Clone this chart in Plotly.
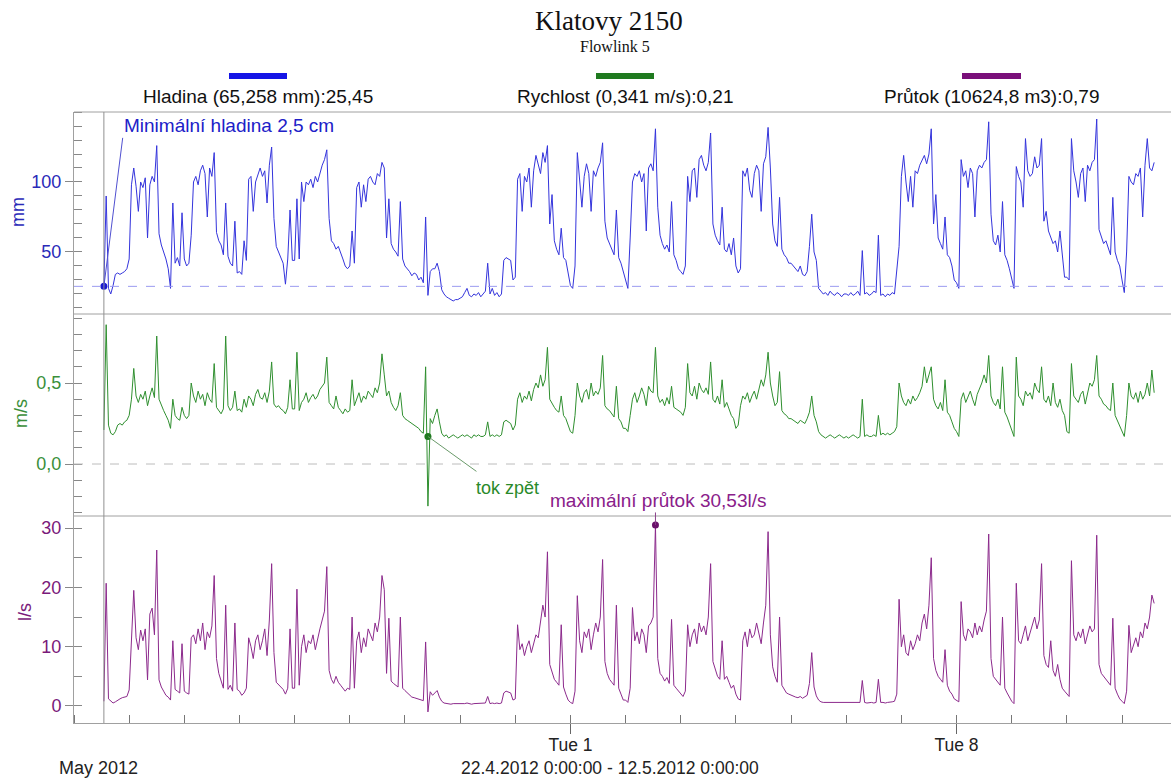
import pandas as pd
import plotly.graph_objects as go

# ---------------- data (hourly readings from 22.4.2012 13:00) ----------------
START = "2012-04-22 13:00"

level_mm = [
    25.45, 90, 24, 20, 26, 34, 35, 34, 35, 36, 38,
    45, 98, 110, 97, 79, 100, 96, 103, 60, 98, 104, 100, 126, 63, 55, 50, 45, 38, 24, 85, 42, 46, 40, 78,
    45, 40, 42, 62, 100, 104, 98, 108, 112, 106, 75, 110, 104, 121, 64, 58, 55, 48, 85, 47, 42, 40, 72, 35,
    36, 34, 58, 44, 102, 104, 79, 100, 106, 110, 104, 108, 85, 112, 125, 74, 54, 50, 46, 42, 27, 45, 80, 44,
    44, 88, 45, 100, 86, 100, 98, 102, 96, 104, 100, 106, 112, 116, 123, 74, 58, 56, 52, 54, 50, 45, 40, 38,
    40, 65, 42, 96, 100, 82, 98, 86, 102, 104, 100, 98, 106, 104, 114, 110, 60, 88, 56, 52, 50, 47, 86, 45,
    40, 38, 36, 33, 35, 34, 30, 32, 28, 75, 19, 36, 38, 38, 42, 36, 23, 20, 18, 17, 16, 15, 16, 16,
    17, 18, 21, 24, 19, 18, 20, 19, 21, 18, 20, 22, 42, 20, 24, 19, 21, 18, 20, 44, 46, 45, 44, 30,
    32, 102, 106, 79, 104, 100, 110, 82, 108, 119, 112, 106, 121, 114, 126, 70, 91, 58, 52, 48, 67, 46, 44, 34,
    26, 24, 40, 121, 100, 82, 104, 113, 106, 79, 108, 104, 110, 114, 128, 72, 60, 56, 52, 48, 80, 46, 42, 36,
    30, 24, 60, 100, 106, 104, 108, 100, 106, 65, 110, 113, 108, 138, 82, 62, 56, 52, 55, 50, 86, 48, 44, 38,
    36, 34, 40, 104, 86, 108, 110, 89, 116, 119, 112, 108, 114, 135, 70, 62, 58, 55, 82, 52, 50, 56, 48, 60,
    40, 35, 38, 108, 104, 110, 94, 89, 106, 112, 108, 79, 113, 118, 139, 110, 70, 58, 54, 89, 52, 48, 46, 42,
    42, 40, 38, 36, 40, 34, 33, 36, 54, 77, 50, 44, 24, 22, 20, 21, 19, 22, 20, 19, 21, 20, 18, 20,
    20, 19, 21, 19, 20, 22, 19, 51, 20, 21, 19, 20, 22, 21, 62, 19, 20, 18, 20, 19, 21, 20, 35, 54,
    104, 119, 100, 86, 104, 82, 108, 106, 112, 116, 119, 113, 120, 138, 70, 91, 60, 56, 52, 75, 48, 46, 40, 30,
    28, 24, 116, 104, 108, 96, 110, 106, 75, 108, 112, 110, 114, 116, 143, 77, 58, 55, 62, 50, 86, 48, 44, 38,
    30, 24, 111, 104, 100, 82, 131, 108, 104, 106, 118, 110, 112, 131, 72, 79, 65, 60, 56, 58, 50, 65, 48, 32,
    32, 30, 131, 108, 100, 89, 106, 110, 86, 112, 108, 114, 116, 145, 66, 60, 56, 58, 52, 48, 89, 50, 44, 40,
    30, 21, 50, 104, 100, 98, 106, 104, 110, 75, 112, 131, 110, 108, 114,
]

velocity_ms = [
    0.21, 0.86, 0.24, 0.19, 0.18, 0.2, 0.24, 0.25, 0.24, 0.26, 0.27,
    0.3, 0.4, 0.59, 0.42, 0.38, 0.43, 0.4, 0.45, 0.36, 0.42, 0.47, 0.41, 0.79, 0.4, 0.36, 0.33, 0.3, 0.27, 0.22, 0.4, 0.3, 0.28, 0.27, 0.35,
    0.3, 0.28, 0.3, 0.5, 0.42, 0.38, 0.45, 0.4, 0.43, 0.36, 0.44, 0.4, 0.38, 0.62, 0.35, 0.33, 0.31, 0.34, 0.79, 0.36, 0.33, 0.35, 0.45, 0.33,
    0.34, 0.32, 0.4, 0.35, 0.42, 0.4, 0.36, 0.43, 0.46, 0.41, 0.4, 0.44, 0.38, 0.45, 0.63, 0.37, 0.35, 0.36, 0.34, 0.33, 0.31, 0.35, 0.52, 0.34,
    0.34, 0.69, 0.33, 0.38, 0.4, 0.44, 0.38, 0.41, 0.43, 0.4, 0.42, 0.46, 0.48, 0.5, 0.66, 0.38, 0.36, 0.34, 0.42, 0.35, 0.33, 0.31, 0.34, 0.32,
    0.33, 0.52, 0.36, 0.4, 0.44, 0.38, 0.42, 0.4, 0.45, 0.43, 0.41, 0.47, 0.44, 0.5, 0.68, 0.55, 0.42, 0.45, 0.38, 0.35, 0.33, 0.36, 0.44, 0.3,
    0.28, 0.27, 0.26, 0.25, 0.24, 0.23, 0.22, 0.2, 0.19, 0.6, -0.26, 0.28, 0.25, 0.3, 0.34, 0.26, 0.19, 0.17, 0.18, 0.16, 0.17, 0.18, 0.17, 0.16,
    0.17, 0.18, 0.17, 0.18, 0.17, 0.16, 0.18, 0.17, 0.18, 0.17, 0.17, 0.18, 0.26, 0.17, 0.18, 0.17, 0.18, 0.17, 0.18, 0.26, 0.27, 0.26, 0.25, 0.21,
    0.24, 0.4, 0.44, 0.38, 0.42, 0.4, 0.45, 0.39, 0.46, 0.5, 0.47, 0.55, 0.48, 0.52, 0.72, 0.4, 0.37, 0.35, 0.33, 0.32, 0.42, 0.3, 0.28, 0.24,
    0.2, 0.19, 0.3, 0.5, 0.42, 0.38, 0.44, 0.46, 0.4, 0.5, 0.42, 0.45, 0.43, 0.47, 0.67, 0.36, 0.34, 0.33, 0.31, 0.29, 0.48, 0.28, 0.26, 0.22,
    0.22, 0.2, 0.3, 0.4, 0.44, 0.38, 0.42, 0.47, 0.43, 0.36, 0.48, 0.45, 0.44, 0.72, 0.42, 0.38, 0.4, 0.36, 0.41, 0.37, 0.48, 0.35, 0.34, 0.33,
    0.32, 0.3, 0.35, 0.62, 0.44, 0.42, 0.48, 0.4, 0.5, 0.46, 0.44, 0.47, 0.43, 0.63, 0.4, 0.38, 0.42, 0.37, 0.52, 0.35, 0.38, 0.34, 0.3, 0.28,
    0.22, 0.24, 0.36, 0.42, 0.4, 0.44, 0.38, 0.42, 0.45, 0.4, 0.47, 0.52, 0.48, 0.55, 0.69, 0.5, 0.42, 0.36, 0.38, 0.57, 0.33, 0.31, 0.3, 0.28,
    0.28, 0.27, 0.26, 0.25, 0.27, 0.26, 0.25, 0.28, 0.32, 0.42, 0.3, 0.26, 0.2, 0.18, 0.17, 0.16, 0.17, 0.18, 0.17, 0.16, 0.17, 0.18, 0.17, 0.16,
    0.17, 0.16, 0.17, 0.18, 0.17, 0.16, 0.17, 0.4, 0.17, 0.18, 0.17, 0.17, 0.18, 0.17, 0.3, 0.18, 0.19, 0.18, 0.19, 0.18, 0.19, 0.2, 0.23, 0.5,
    0.42, 0.38, 0.36, 0.4, 0.37, 0.42, 0.39, 0.41, 0.44, 0.48, 0.6, 0.5, 0.55, 0.6, 0.4, 0.36, 0.34, 0.38, 0.33, 0.52, 0.32, 0.3, 0.26, 0.22,
    0.2, 0.17, 0.4, 0.44, 0.38, 0.42, 0.45, 0.4, 0.36, 0.43, 0.46, 0.5, 0.55, 0.5, 0.67, 0.42, 0.38, 0.36, 0.4, 0.34, 0.6, 0.32, 0.29, 0.25,
    0.2, 0.17, 0.66, 0.42, 0.4, 0.36, 0.45, 0.42, 0.44, 0.4, 0.5, 0.46, 0.44, 0.6, 0.4, 0.38, 0.42, 0.36, 0.5, 0.38, 0.35, 0.4, 0.33, 0.3,
    0.2, 0.19, 0.62, 0.42, 0.4, 0.38, 0.43, 0.45, 0.37, 0.44, 0.5, 0.48, 0.52, 0.67, 0.42, 0.4, 0.37, 0.36, 0.34, 0.33, 0.5, 0.3, 0.27, 0.24,
    0.2, 0.17, 0.3, 0.5, 0.42, 0.4, 0.44, 0.38, 0.45, 0.4, 0.43, 0.5, 0.42, 0.58, 0.44,
]

flow_ls = [
    0.79, 20.7, 1.2, 0.8, 0.5, 0.7, 1.0, 1.2, 1.4, 1.5, 1.6,
    2.7, 10.8, 19.5, 11.5, 9.5, 12.8, 11, 13, 4.4, 15.5, 16.5, 12, 26.3, 4.4, 3.2, 2.5, 1.8, 1.5, 1.0, 11, 2.8, 2.5, 2.2, 10.5,
    2.5, 2.2, 2.0, 11.5, 12, 10.5, 13, 11, 14, 9.5, 12.5, 11.5, 13.5, 22, 8, 5.5, 4, 3, 17, 2.8, 3.5, 2.5, 14, 2.8,
    2.5, 1.8, 2.2, 3, 11.5, 10, 8, 11, 12, 9.5, 11, 13, 8.5, 14.5, 24, 9, 4, 3.5, 3.2, 2.8, 2, 3, 13, 3,
    3, 19.7, 3.5, 10, 12, 9, 11, 10.5, 12, 9.5, 11.5, 13, 14.5, 16, 23.5, 6, 4.5, 3.8, 5, 4, 3.5, 3, 2.5, 3,
    2.8, 15, 3, 11, 12.5, 9, 11.5, 10, 13, 12, 11, 14, 12.5, 15, 22, 19.6, 5.5, 14.8, 4.2, 3.8, 3.5, 3.2, 15, 3,
    2.6, 2.2, 1.8, 1.5, 1.4, 1.3, 1.2, 1.0, 0.9, 10.8, -1.0, 2.4, 1.8, 2.2, 2.6, 1.5, 0.8, 0.5, 0.4, 0.4, 0.3, 0.4, 0.4, 0.3,
    0.3, 0.4, 0.4, 0.5, 0.4, 0.3, 0.4, 0.4, 0.5, 0.4, 0.4, 0.5, 1.6, 0.4, 0.5, 0.4, 0.5, 0.4, 0.5, 2.2, 2.5, 2.4, 2.2, 1.0,
    1.2, 13.7, 9.5, 10.5, 8.5, 10, 11, 9, 10.5, 12, 11.5, 14, 17, 15, 26, 7, 5.5, 4.5, 4, 3.5, 13.7, 3.2, 2, 1,
    0.6, 0.4, 2.5, 18.6, 11, 9, 12.5, 11.5, 13, 9.5, 12, 14, 12.5, 15, 24.7, 7.5, 5.5, 4.5, 4, 3.5, 17, 3, 2, 1,
    1, 0.6, 3, 16.6, 11, 12.5, 10.5, 13, 12, 9, 13.5, 14, 15, 30.53, 8, 5.5, 5, 4.2, 4.8, 3.8, 14.6, 3.5, 3, 2.5,
    2, 1.6, 2.5, 13.7, 10, 12, 13, 10.5, 14, 12.5, 13.5, 12, 15, 24, 7.5, 6, 5, 4.5, 11, 4.5, 5, 4, 3, 3.5,
    2, 1.2, 1, 11, 12.5, 10, 13, 11.5, 12, 14, 12.5, 10.5, 14, 17, 29.4, 12, 6.6, 5, 4, 15, 3.5, 2.8, 2.2, 2,
    1.8, 1.6, 1.5, 1.4, 1.6, 1.3, 1.5, 1.8, 3.8, 9, 3.2, 1.7, 1, 0.7, 0.6, 0.6, 0.5, 0.6, 0.6, 0.5, 0.6, 0.6, 0.5, 0.6,
    0.6, 0.5, 0.6, 0.6, 0.5, 0.6, 0.6, 4.3, 0.6, 0.5, 0.6, 0.6, 0.5, 0.6, 4.5, 0.6, 0.6, 0.5, 0.6, 0.6, 0.7, 0.8, 2, 18,
    10, 12, 9, 8.5, 11, 9.5, 10.5, 12, 11, 14, 15.5, 13, 17, 25, 8, 6, 5, 4.5, 4, 9.5, 3.5, 2.5, 2, 1.2,
    1, 0.7, 17.6, 12, 11, 13, 12.5, 11.5, 14, 12, 13.5, 12.5, 14.5, 16, 29, 8, 5, 4.5, 4, 3.5, 15, 3, 2.2, 1.5,
    0.8, 0.4, 20.7, 11, 10.5, 12, 13.5, 11, 12.5, 14, 15, 13, 14.5, 24, 8.5, 7, 6.5, 11, 6, 5, 7, 4.5, 3, 2.5,
    2, 1.6, 24.5, 12, 11, 12.5, 11.5, 13, 10.5, 12, 13.5, 12.5, 13, 28.8, 7, 5.5, 5, 4.5, 4, 3.5, 14.8, 3, 2, 1.2,
    0.8, 0.4, 2.5, 13.6, 9, 10.5, 11.5, 10, 12.5, 11.5, 14, 13, 15, 18.7, 17.3,
]

min_level_ref = 25.45          # "Minimální hladina 2,5 cm"
backflow_hour_index = 141      # "tok zpět" point
backflow_marker_value = 0.17
x_tick_vals = ["2012-05-01", "2012-05-08"]
x_tick_text = ["Tue 1", "Tue 8"]

assert len(level_mm) == len(velocity_ms) == len(flow_ls)
times = pd.date_range(START, periods=len(level_mm), freq="h")

# ---------------- styling ----------------
BLUE, GREEN, PURPLE = "#3434dc", "#2f8f2f", "#8c2a8c"
BLUE_T, GREEN_T, PURPLE_T = "#2a2ab8", "#3a8f3a", "#7a1a7a"
GREY = "#a0a0a0"
SANS = "Liberation Sans, Arial, sans-serif"
SERIF = "Liberation Serif, Times New Roman, serif"

W, H = 1171, 778
L, R, T, B = 74, 0, 112, 55
PW, PH = W - L - R, H - T - B


def px(xp):
    return (xp - L) / PW


def py(yp):
    return (H - B - yp) / PH


d_top = [py(314), 1.0]
d_mid = [py(516), py(314)]
d_bot = [0.0, py(516)]

fig = go.Figure()
fig.add_trace(go.Scatter(x=times, y=level_mm, mode="lines", line=dict(color=BLUE, width=1),
                         yaxis="y", name="Hladina"))
fig.add_trace(go.Scatter(x=times, y=velocity_ms, mode="lines", line=dict(color=GREEN, width=1),
                         yaxis="y2", name="Rychlost"))
fig.add_trace(go.Scatter(x=times, y=flow_ls, mode="lines", line=dict(color=PURPLE, width=1),
                         yaxis="y3", name="Průtok"))

# marker dots
imax = max(range(len(flow_ls)), key=lambda i: flow_ls[i])
fig.add_trace(go.Scatter(x=[times[0]], y=[min_level_ref], mode="markers",
                         marker=dict(color="#1a1ad0", size=7), yaxis="y"))
fig.add_trace(go.Scatter(x=[times[backflow_hour_index]], y=[backflow_marker_value], mode="markers",
                         marker=dict(color="#1f7a1f", size=7), yaxis="y2"))
fig.add_trace(go.Scatter(x=[times[imax]], y=[flow_ls[imax]], mode="markers",
                         marker=dict(color="#6a106a", size=7), yaxis="y3"))

yax_common = dict(showline=True, linecolor=GREY, linewidth=1, showgrid=False, zeroline=False,
                  ticks="outside", ticklen=8, tickcolor="#888", anchor="x", fixedrange=True)

fig.update_layout(
    width=W, height=H,
    margin=dict(l=L, r=R, t=T, b=B),
    paper_bgcolor="white", plot_bgcolor="white",
    showlegend=False,
    font=dict(family=SANS, size=18, color="#222"),
    xaxis=dict(type="date", range=["2012-04-22 00:00", "2012-05-11 21:19"], anchor="y3",
               showline=True, linecolor=GREY, showgrid=False, zeroline=False,
               tickvals=x_tick_vals, ticktext=x_tick_text, ticks="outside", ticklen=10,
               tickcolor="#666", tickfont=dict(size=17.5, color="#222"), ticklabelstandoff=-4,
               minor=dict(ticks="inside", ticklen=8, dtick=86400000, tick0="2012-04-22",
                          tickcolor="#777", showgrid=False)),
    yaxis=dict(domain=d_top, range=[5.7, 150], tickvals=[50, 100], ticktext=["50", "100"],
               tickfont=dict(size=18, color=BLUE_T),
               minor=dict(ticks="inside", ticklen=8, dtick=10, tick0=0, tickcolor="#888"),
               **yax_common),
    yaxis2=dict(domain=d_mid, range=[-0.321, 0.926], tickvals=[0, 0.5], ticktext=["0,0", "0,5"],
                tickfont=dict(size=18, color=GREEN_T),
                minor=dict(ticks="inside", ticklen=8, dtick=0.1, tick0=0, tickcolor="#888"),
                **yax_common),
    yaxis3=dict(domain=d_bot, range=[-2.87, 32.04], tickvals=[0, 10, 20, 30],
                ticktext=["0", "10", "20", "30"],
                tickfont=dict(size=18, color=PURPLE_T),
                minor=dict(ticks="inside", ticklen=8, dtick=5, tick0=0, tickcolor="#888"),
                **yax_common),
)

shapes = []
# frame lines: top border and panel separators
for yy in [1.0, d_top[0], d_mid[0]]:
    shapes.append(dict(type="line", xref="paper", yref="paper", x0=0, x1=1, y0=yy, y1=yy,
                       line=dict(color=GREY, width=1)))
# cursor
shapes.append(dict(type="line", xref="x", yref="paper", x0=times[0], x1=times[0], y0=0, y1=1,
                   line=dict(color="#909090", width=1)))
# reference dashed lines
shapes.append(dict(type="line", xref="paper", yref="y", x0=0, x1=1, y0=min_level_ref, y1=min_level_ref,
                   line=dict(color="#9a9af0", width=1, dash="dash")))
shapes.append(dict(type="line", xref="paper", yref="y2", x0=0, x1=1, y0=0, y1=0,
                   line=dict(color="#bcbcbc", width=1, dash="dash")))
# legend colour bars
for (x0, x1, col) in [(229, 287, "#1515e6"), (596, 654, "#1f7a1f"), (962, 1021, "#7a0f7a")]:
    shapes.append(dict(type="rect", xref="paper", yref="paper", x0=px(x0), x1=px(x1),
                       y0=py(79), y1=py(73), fillcolor=col, line=dict(width=0)))
fig.update_layout(shapes=shapes)


def text_ann(txt, xc, yc, size=18, color="#222", xanchor="center", family=SANS, angle=0):
    return dict(text=txt, xref="paper", yref="paper", x=px(xc), y=py(yc), showarrow=False,
                xanchor=xanchor, yanchor="middle", textangle=angle,
                font=dict(family=family, size=size, color=color))


ann = []
ann.append(text_ann("Klatovy 2150", 609, 21, size=27, color="#111", family=SERIF))
ann.append(text_ann("Flowlink 5", 615, 46, size=16, color="#111", family=SERIF))
for (xc, txt) in [(258, "Hladina (65,258 mm):25,45"), (625, "Rychlost (0,341 m/s):0,21"),
                  (991, "Průtok (10624,8 m3):0,79")]:
    ann.append(text_ann(txt, xc, 97, size=19, color="#111"))
# axis titles
for (xc, yc, txt, col) in [(18, 212, "mm", BLUE_T), (21, 414, "m/s", GREEN_T), (25, 612, "l/s", PURPLE_T)]:
    ann.append(text_ann(txt, xc, yc, size=18, color=col, angle=-90))
# bottom texts
ann.append(text_ann("May 2012", 57, 768, size=18, xanchor="left"))
ann.append(text_ann("22.4.2012 0:00:00 - 12.5.2012 0:00:00", 610, 768, size=17.5))
# callouts
ann.append(text_ann("Minimální hladina 2,5 cm", 122, 125, size=19, color="#2020c8", xanchor="left"))
ann.append(dict(text="", x=times[0], y=min_level_ref, xref="x", yref="y", showarrow=True,
                arrowhead=0, arrowwidth=1, arrowcolor="#5050d0", ax=19, ay=-150))
ann.append(text_ann("tok zpět", 474, 488, size=18, color="#2a8a2a", xanchor="left"))
ann.append(dict(text="", x=times[backflow_hour_index], y=backflow_marker_value, xref="x", yref="y2",
                showarrow=True, arrowhead=0, arrowwidth=1, arrowcolor="#6a9a6a", ax=50, ay=36))
ann.append(text_ann("maximální průtok 30,53l/s", 548, 500, size=19, color="#8a208a", xanchor="left"))
ann.append(dict(text="", x=times[imax], y=flow_ls[imax], xref="x", yref="y3",
                showarrow=True, arrowhead=0, arrowwidth=1, arrowcolor="#8a408a", ax=0, ay=-14))
fig.update_layout(annotations=ann)

fig.write_html("out.html", config={"displayModeBar": False},
               post_script="document.body.style.margin='0px';")
